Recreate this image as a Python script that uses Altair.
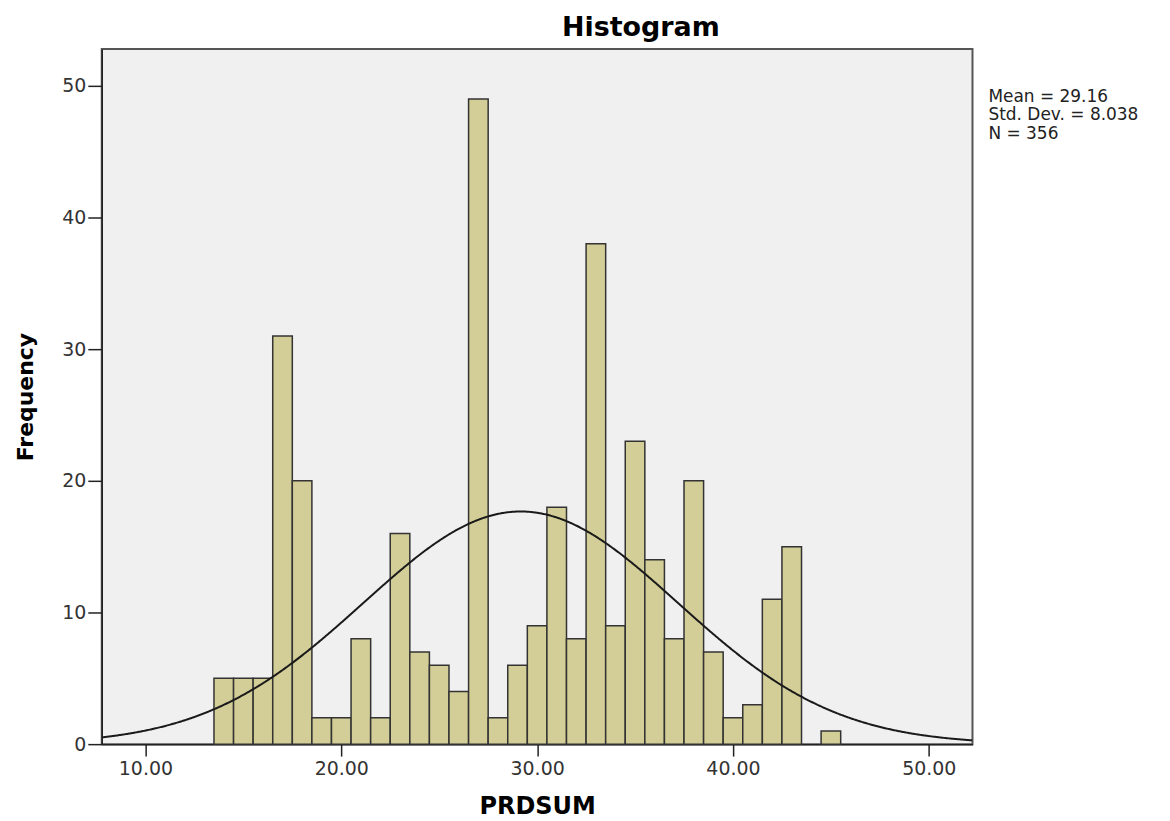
import altair as alt
import pandas as pd

# ---- data ----
bin_centers = list(range(14, 46))
counts = [5, 5, 5, 31, 20, 2, 2, 8, 2, 16, 7, 6, 4, 49, 2, 6,
          9, 18, 8, 38, 9, 23, 14, 8, 20, 7, 2, 3, 11, 15, 0, 1]
mean_val = 29.16
sd_val = 8.038
n_val = 356
bin_width = 1.0
x_ticks = [10, 20, 30, 40, 50]
y_ticks = [0, 10, 20, 30, 40, 50]
stats_lines = ["Mean = 29.16", "Std. Dev. = 8.038", "N = 356"]

x_domain = [7.77, 52.23]
y_domain = [0, 52.8]

W, H = 873, 697
FONT = "DejaVu Sans"

bars_df = pd.DataFrame({"center": bin_centers, "count": counts})
bars_df = bars_df[bars_df["count"] > 0]

xscale = alt.Scale(domain=x_domain, nice=False, zero=False)
yscale = alt.Scale(domain=y_domain, nice=False)

bars = alt.Chart(bars_df).transform_calculate(
    x0=f"datum.center - {bin_width}/2", x1=f"datum.center + {bin_width}/2"
).mark_rect(fill="#d3ce97", stroke="#333333", strokeWidth=1.5).encode(
    x=alt.X("x0:Q", scale=xscale,
            axis=alt.Axis(values=x_ticks, format=".2f", title="PRDSUM",
                          tickSize=12, labelPadding=3, titlePadding=17)),
    x2="x1:Q",
    y=alt.Y("count:Q", scale=yscale,
            axis=alt.Axis(values=y_ticks, format="d", title="Frequency",
                          tickSize=14, labelPadding=2, titlePadding=24)),
    y2=alt.datum(0),
)

curve = alt.Chart(alt.sequence(x_domain[0], x_domain[1] + 0.01, 0.05, as_="x")).transform_calculate(
    dens=f"{n_val}*{bin_width}/({sd_val}*sqrt(2*PI))*exp(-0.5*pow((datum.x-{mean_val})/{sd_val},2))"
).mark_line(color="#1a1a1a", strokeWidth=2, clip=True).encode(
    x=alt.X("x:Q", scale=xscale),
    y=alt.Y("dens:Q", scale=yscale),
)

stats = alt.Chart(pd.DataFrame({"t": ["\n".join(stats_lines)]})).mark_text(
    align="left", baseline="alphabetic", font=FONT, fontSize=17, lineHeight=18.5,
    lineBreak="\n", color="#222222"
).encode(
    x=alt.value(W + 16), y=alt.value(53), text="t:N"
)

chart = alt.layer(bars, curve, stats).properties(
    width=W, height=H,
    title=alt.Title("Histogram", font=FONT, fontSize=27, fontWeight="bold",
                    color="#000000", anchor="middle", dx=104, offset=7),
    autosize=alt.AutoSizeParams(type="none"),
    padding={"left": 94, "top": 40, "right": 190, "bottom": 72},
    background="white",
).configure_view(
    fill="#f0f0f0", stroke="#555555", strokeWidth=2
).configure_axis(
    grid=False, domainColor="#222222", domainWidth=1.5,
    tickColor="#222222", tickWidth=1.5,
    labelFont=FONT, labelFontSize=19, labelColor="#333333",
    titleFont=FONT, titleFontWeight="bold", titleColor="#000000",
).configure_axisX(titleFontSize=24).configure_axisY(titleFontSize=22)

chart.save("out.html", embed_options={"renderer": "svg", "actions": False})
